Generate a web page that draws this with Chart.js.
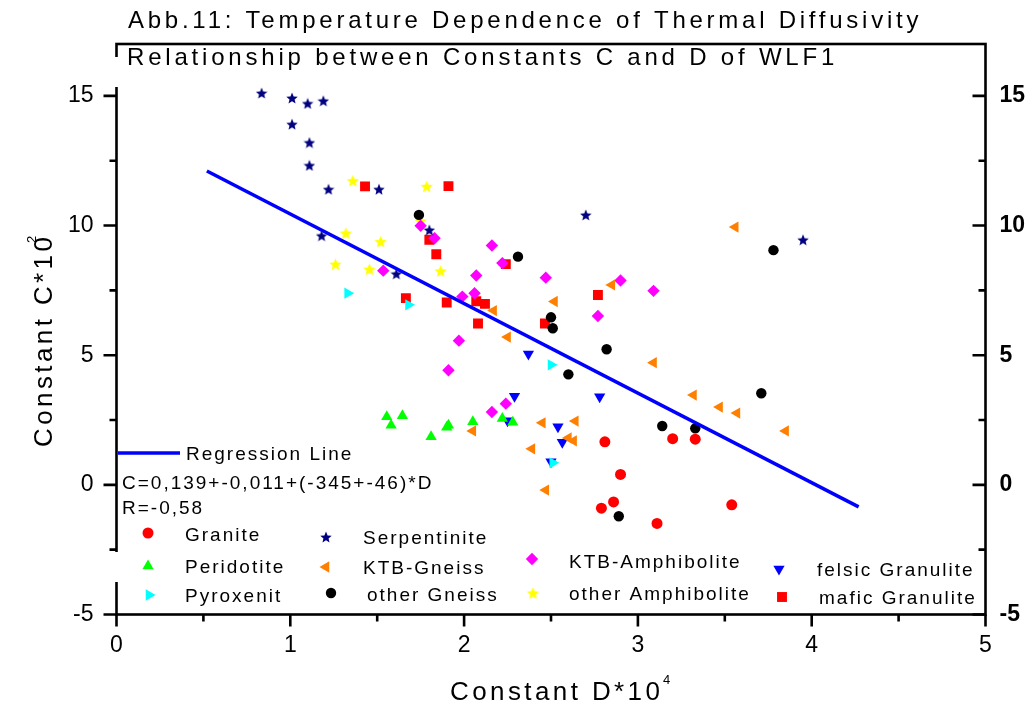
<!DOCTYPE html>
<html>
<head>
<meta charset="utf-8">
<script src="https://cdn.jsdelivr.net/npm/chart.js@4.4.1/dist/chart.umd.min.js"></script>
<style>
  html, body { margin: 0; padding: 0; background: #fff; }
</style>
</head>
<body>
<canvas id="chart" width="1029" height="704"></canvas>
<script>
// values: [D*10^4, C*10^2]
const granite = [[2.81,1.66],[3.20,1.78],[3.33,1.76],[2.90,0.40],[2.86,-0.66],[2.79,-0.90],[3.11,-1.49],[3.54,-0.77]];
const peridotite = [[1.555,2.63],[1.58,2.30],[1.645,2.66],[1.81,1.85],[1.91,2.30],[1.90,2.22],[2.05,2.43],[2.22,2.56],[2.28,2.41]];
const pyroxenit = [[1.33,7.39],[1.68,6.94],[2.50,4.63],[2.51,0.85]];
const serpentinite = [[0.835,15.11],[1.01,14.92],[1.10,14.71],[1.19,14.81],[1.01,13.91],[1.11,13.20],[1.11,12.32],
  [1.22,11.40],[1.51,11.40],[1.18,9.61],[1.61,8.14],[1.80,9.83],[2.70,10.41],[3.95,9.45]];
const ktbGneiss = [[2.85,7.71],[2.52,7.07],[3.56,9.94],[2.17,6.72],[2.25,5.70],[3.09,4.71],[3.32,3.46],[3.47,3.00],
  [3.57,2.77],[3.85,2.08],[2.45,2.39],[2.64,2.46],[2.05,2.08],[2.60,1.81],[2.63,1.70],[2.39,1.39],[2.47,-0.20]];
const otherGneiss = [[1.74,10.41],[2.31,8.80],[3.78,9.05],[2.50,6.46],[2.51,6.04],[2.82,5.23],[2.60,4.26],
  [3.71,3.53],[3.14,2.27],[3.33,2.18],[2.89,-1.21]];
const ktbAmphibolite = [[1.535,8.26],[1.75,9.99],[1.83,9.51],[2.16,9.23],[2.22,8.55],[2.07,8.07],[2.47,7.99],[2.90,7.88],
  [3.09,7.48],[2.06,7.39],[1.99,7.26],[2.77,6.51],[1.97,5.56],[1.91,4.42],[2.24,3.13],[2.16,2.81]];
const otherAmphibolite = [[1.36,11.73],[1.32,9.71],[1.52,9.38],[1.26,8.51],[1.455,8.32],[1.785,11.51],[1.75,10.18],[1.865,8.25]];
const felsicGranulite = [[2.37,5.05],[2.29,3.42],[2.78,3.40],[2.25,2.47],[2.54,2.24],[2.565,1.64],[2.50,0.89]];
const maficGranulite = [[1.43,11.51],[1.91,11.52],[1.80,9.45],[1.84,8.89],[2.24,8.51],[2.77,7.32],[1.665,7.20],
  [1.90,7.03],[2.07,7.08],[2.12,6.98],[2.08,6.22],[2.465,6.22]];
const regression = [[0.52,12.1],[4.27,-0.85]];

const xTicks = [0, 1, 2, 3, 4, 5];
const yTicks = [-5, 0, 5, 10, 15];

const FONT = '"Liberation Sans", Arial, sans-serif';

function starImage(color, size) {
  const c = document.createElement('canvas');
  c.width = size; c.height = size;
  const g = c.getContext('2d');
  const cx = size / 2, cy = size / 2 + size * 0.05, R = size / 2, r = R * 0.45;
  g.beginPath();
  for (let i = 0; i < 10; i++) {
    const ang = -Math.PI / 2 + i * Math.PI / 5;
    const rr = i % 2 ? r : R;
    g.lineTo(cx + rr * Math.cos(ang), cy + rr * Math.sin(ang));
  }
  g.closePath();
  g.fillStyle = color;
  g.fill();
  return c;
}

const navyStar = starImage('#000080', 12);
const yellowStar = starImage('#ffff00', 13);

const pts = arr => arr.map(p => ({x: p[0], y: p[1]}));

// legend entries: label, style, text position
const series = [
  {label: 'Granite', data: granite, color: '#ff0000', style: 'circle', r: 5.5, rot: 0, lx: 148, ly: 533, tx: 185, ty: 534},
  {label: 'Peridotite', data: peridotite, color: '#00ff00', style: 'triangle', r: 6.5, rot: 0, lx: 148, ly: 566, tx: 185, ty: 566},
  {label: 'Pyroxenit', data: pyroxenit, color: '#00ffff', style: 'triangle', r: 6.5, rot: 90, lx: 149, ly: 595, tx: 185, ty: 595},
  {label: 'Serpentinite', data: serpentinite, color: '#000080', style: navyStar, r: 6, rot: 0, lx: 326, ly: 537, tx: 363, ty: 537},
  {label: 'KTB-Gneiss', data: ktbGneiss, color: '#ff8000', style: 'triangle', r: 6.5, rot: -90, lx: 326, ly: 567, tx: 363, ty: 567},
  {label: 'other Gneiss', data: otherGneiss, color: '#000000', style: 'circle', r: 5.2, rot: 0, lx: 331, ly: 593, tx: 367, ty: 594},
  {label: 'KTB-Amphibolite', data: ktbAmphibolite, color: '#ff00ff', style: 'rectRot', r: 6.2, rot: 0, lx: 532, ly: 559, tx: 569, ty: 561},
  {label: 'other Amphibolite', data: otherAmphibolite, color: '#ffff00', style: yellowStar, r: 6, rot: 0, lx: 533, ly: 593, tx: 569, ty: 593},
  {label: 'felsic Granulite', data: felsicGranulite, color: '#0000ff', style: 'triangle', r: 6.5, rot: 180, lx: 779, ly: 569, tx: 817, ty: 569},
  {label: 'mafic Granulite', data: maficGranulite, color: '#ff0000', style: 'rect', r: 7, rot: 0, lx: 782, ly: 597, tx: 819, ty: 597}
];

function spacedText(ctx, text, x, y, spacing) {
  ctx.letterSpacing = spacing + 'px';
  ctx.fillText(text, x, y);
  ctx.letterSpacing = '0px';
}

const framePlugin = {
  id: 'frame',
  beforeDatasetsDraw(chart) {
    const {ctx, chartArea: a, scales} = chart;
    ctx.save();
    ctx.strokeStyle = '#000';
    ctx.lineWidth = 2.6;
    ctx.strokeRect(a.left, a.top, a.right - a.left, a.bottom - a.top);
    ctx.beginPath();
    for (let v = 0; v <= 5.001; v += 0.5) {
      const px = scales.x.getPixelForValue(v);
      const len = Math.abs(v - Math.round(v)) < 0.01 ? 12 : 7;
      ctx.moveTo(px, a.bottom);
      ctx.lineTo(px, a.bottom + len);
    }
    for (let v = -5; v <= 15.001; v += 2.5) {
      const py = scales.y.getPixelForValue(v);
      const len = Math.abs(v % 5) < 0.01 ? 13 : 7;
      ctx.moveTo(a.left - len, py);
      ctx.lineTo(a.left, py);
      ctx.moveTo(a.right - len, py);
      ctx.lineTo(a.right, py);
    }
    ctx.stroke();
    // gaps in the left axis behind title and legend
    ctx.fillStyle = '#fff';
    ctx.fillRect(a.left - 3, 57, 6, 30);
    ctx.fillRect(a.left - 3, 552, 6, 30);
    ctx.restore();
  },
  afterDraw(chart) {
    const ctx = chart.ctx;
    ctx.save();
    ctx.fillStyle = '#000';
    ctx.textBaseline = 'alphabetic';
    ctx.textAlign = 'left';

    // titles
    ctx.font = '24px ' + FONT;
    spacedText(ctx, 'Abb.11: Temperature Dependence of Thermal Diffusivity', 128, 28, 3.75);
    spacedText(ctx, 'Relationship between Constants C and D of WLF1', 127, 65, 3.8);

    // x axis title
    ctx.font = '26px ' + FONT;
    spacedText(ctx, 'Constant D*10', 450, 700, 3.4);
    ctx.font = '13px ' + FONT;
    ctx.fillText('4', 663, 684);

    // y axis title
    ctx.save();
    ctx.translate(52, 447);
    ctx.rotate(-Math.PI / 2);
    ctx.font = '26px ' + FONT;
    spacedText(ctx, 'Constant C*10', 0, 0, 3.4);
    ctx.font = '13px ' + FONT;
    ctx.fillText('2', 204, -16);
    ctx.restore();

    // legend
    ctx.font = '19px ' + FONT;
    ctx.strokeStyle = '#0000ff';
    ctx.lineWidth = 3.5;
    ctx.beginPath();
    ctx.moveTo(118, 453);
    ctx.lineTo(180, 453);
    ctx.stroke();
    spacedText(ctx, 'Regression Line', 186, 460, 2);
    spacedText(ctx, 'C=0,139+-0,011+(-345+-46)*D', 122, 489, 2);
    spacedText(ctx, 'R=-0,58', 122, 514, 2);

    series.forEach(s => {
      ctx.fillStyle = s.color;
      Chart.helpers.drawPoint(ctx, {pointStyle: s.style, radius: s.r, rotation: s.rot, borderWidth: 0}, s.lx, s.ly);
      ctx.fillStyle = '#000';
      spacedText(ctx, s.label, s.tx, s.ty + 7, 2);
    });
    ctx.restore();
  }
};

const datasets = [{
  type: 'line',
  label: 'Regression Line',
  data: pts(regression),
  borderColor: '#0000ff',
  borderWidth: 3.5,
  pointRadius: 0,
  fill: false
}].concat(series.map(s => ({
  type: 'scatter',
  label: s.label,
  data: pts(s.data),
  backgroundColor: s.color,
  borderWidth: 0,
  pointStyle: s.style,
  pointRadius: s.r,
  pointHoverRadius: s.r,
  pointRotation: s.rot
})));

const yAxis = (position, bold, pad) => ({
  type: 'linear',
  position: position,
  min: -5,
  max: 17,
  afterBuildTicks: s => { s.ticks = yTicks.map(v => ({value: v})); },
  afterFit: s => { s.width = position === 'left' ? 116.5 : 43.5; },
  grid: {display: false, drawTicks: false},
  border: {display: false},
  ticks: {
    color: '#000',
    padding: pad,
    font: {family: FONT, size: 23, weight: bold ? 'bold' : 'normal'}
  }
});

new Chart(document.getElementById('chart'), {
  type: 'scatter',
  data: {datasets: datasets},
  options: {
    responsive: false,
    animation: false,
    devicePixelRatio: 1,
    layout: {padding: {top: 44, left: 0, right: 0, bottom: 0}},
    plugins: {legend: {display: false}, tooltip: {enabled: false}},
    scales: {
      x: {
        type: 'linear',
        position: 'bottom',
        min: 0,
        max: 5,
        afterBuildTicks: s => { s.ticks = xTicks.map(v => ({value: v})); },
        afterFit: s => { s.height = 89.5; },
        grid: {display: false, drawTicks: false},
        border: {display: false},
        ticks: {color: '#000', padding: 17, font: {family: FONT, size: 23}}
      },
      y: yAxis('left', false, 23),
      y2: yAxis('right', true, 14)
    }
  },
  plugins: [framePlugin]
});
</script>
</body>
</html>
